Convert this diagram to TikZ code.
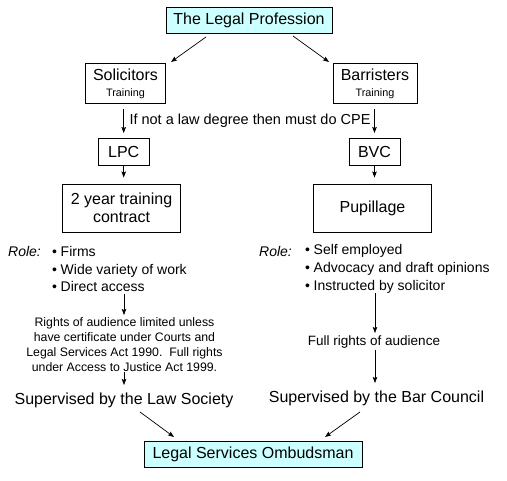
\documentclass[tikz,border=0pt]{standalone}
\usepackage{fontspec}
\setmainfont{Liberation Sans}
\usetikzlibrary{arrows.meta}
\definecolor{cyanfill}{HTML}{CCFFFF}
\newcommand{\fs}[1]{\fontsize{#1}{#1}\selectfont}
\newcommand{\bul}{\makebox[8.5pt][l]{•}}
\begin{document}
\begin{tikzpicture}[x=1pt,y=-1pt,
  box/.style={draw, line width=0.9pt, inner sep=0pt, align=center},
  hibox/.style={box, fill=cyanfill},
  arr/.style={-{Stealth[length=6pt,width=4.5pt,inset=1pt]}, line width=0.7pt},
  txt/.style={inner sep=0pt, align=center},
  big/.style={font=\fs{16}},
  itemtxt/.style={inner sep=0pt, anchor=base west, font=\fs{14}}]
\useasboundingbox (0,0) rectangle (507,481);

% boxes
\node[hibox, big, minimum width=166pt, minimum height=26pt] (prof) at (249,20) {The Legal Profession};
\node[box, minimum width=80pt, minimum height=40pt] (sol) at (125.5,83.5)
  {{\fs{16}Solicitors}\\[4pt]{\fs{10.8}Training}};
\node[box, minimum width=84pt, minimum height=40pt] (bar) at (375,83.5)
  {{\fs{16}Barristers}\\[4pt]{\fs{10.8}Training}};
\node[box, big, minimum width=51pt, minimum height=27pt] (lpc) at (123.7,152) {LPC};
\node[box, big, minimum width=51pt, minimum height=27pt] (bvc) at (374.5,152) {BVC};
\node[box, font=\fontsize{16}{18.5}\selectfont, minimum width=118pt, minimum height=48pt] (con) at (121.5,208) {2 year training\\contract};
\node[box, big, minimum width=118pt, minimum height=48pt] (pup) at (372.5,208) {Pupillage};
\node[hibox, big, minimum width=218pt, minimum height=26pt] (omb) at (253,454) {Legal Services Ombudsman};

% CPE text
\node[txt, font=\fs{14.5}] (cpe) at (250,121) {If not a law degree then must do CPE};

% left role
\node[itemtxt] (lrole) at (8,257) {\itshape Role:};
\node[itemtxt] (l1) at (52,257) {\bul Firms};
\node[itemtxt] (l2) at (52,274.5) {\bul Wide variety of work};
\node[itemtxt] (l3) at (52,292) {\bul Direct access};

% right role
\node[itemtxt] (rrole) at (259,257) {\itshape Role:};
\node[itemtxt] (r1) at (305,255) {\bul Self employed};
\node[itemtxt] (r2) at (305,273) {\bul Advocacy and draft opinions};
\node[itemtxt] (r3) at (305,290.5) {\bul Instructed by solicitor};

% left lower
\node[txt, anchor=north, font=\fontsize{12.3}{15}\selectfont] (rights) at (124.5,317.5)
  {Rights of audience limited unless\\have certificate under Courts and\\Legal Services Act 1990.\ \ Full rights\\under Access to Justice Act 1999.};
\node[txt, anchor=base, big] (law) at (124,405) {Supervised by the Law Society};

% right lower
\node[txt, font=\fs{13.5}] (full) at (374,342) {Full rights of audience};
\node[txt, anchor=base, big] (barc) at (376.5,403) {Supervised by the Bar Council};

% coordinates for free ends
\coordinate (la) at (124,294);
\coordinate (lb) at (124,315);
\coordinate (lc) at (124,372);
\coordinate (ld) at (124,385);
\coordinate (ra) at (375,293);
\coordinate (rb) at (375,333);
\coordinate (rc) at (375,350);
\coordinate (rd) at (375,383);
\coordinate (oa) at (140,412);
\coordinate (ob) at (174,437);
\coordinate (oc) at (360,412);
\coordinate (od) at (325,437);
\coordinate (pa) at (206,37);
\coordinate (pb) at (171,62);
\coordinate (pc) at (293,36);
\coordinate (pd) at (329,62);

% connectors
\draw[arr] (pa) -- (pb);
\draw[arr] (pc) -- (pd);
\draw[arr, shorten <=5pt, shorten >=5pt] (sol.south -| lpc.north) -- (lpc.north);
\draw[arr, shorten <=5pt, shorten >=5pt] (bar.south -| bvc.north) -- (bvc.north);
\draw[arr, shorten >=6pt] (lpc.south) -- (lpc.south |- con.north);
\draw[arr, shorten >=6pt] (bvc.south) -- (bvc.south |- pup.north);
\draw[arr] (la) -- (lb);
\draw[arr] (lc) -- (ld);
\draw[arr] (ra) -- (rb);
\draw[arr] (rc) -- (rd);
\draw[arr] (oa) -- (ob);
\draw[arr] (oc) -- (od);
\end{tikzpicture}
\end{document}
